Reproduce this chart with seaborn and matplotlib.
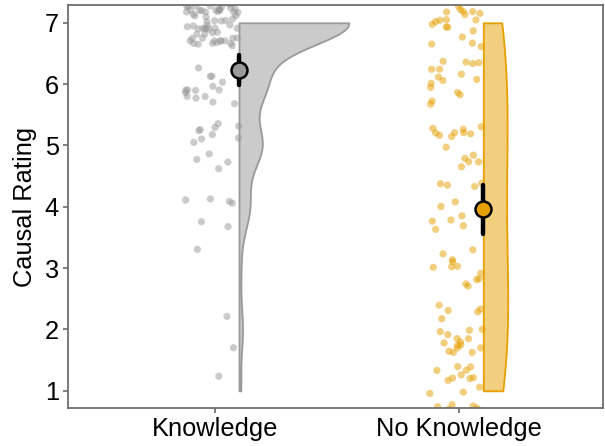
import numpy as np
import pandas as pd
import matplotlib
matplotlib.use("Agg")
import matplotlib.pyplot as plt
import seaborn as sns

# Causal ratings (1-7 scale): number of participants giving each rating
ratings = [1, 2, 3, 4, 5, 6, 7]
knowledge_counts = [1, 2, 1, 6, 13, 15, 64]
no_knowledge_counts = [20, 20, 12, 12, 15, 16, 20]

groups = ["Knowledge", "No Knowledge"]
point_colors = {"Knowledge": "#999999", "No Knowledge": "#E69F00"}
y_label = "Causal Rating"

sns.set_theme(style="white")
plt.rcParams["font.family"] = ["Liberation Sans", "DejaVu Sans"]

# long-format table, one row per participant
rows = []
for gi, (g, counts) in enumerate(zip(groups, [knowledge_counts, no_knowledge_counts])):
    for r, c in zip(ratings, counts):
        rows += [{"group": g, "gpos": gi, "rating": r}] * c
df = pd.DataFrame(rows)

# display jitter for the raw-data cloud (like geom_jitter)
rng = np.random.default_rng(7)
df["xj"] = df["gpos"] + rng.uniform(-0.11, 0.11, len(df)) - 0.01
df["yj"] = df["rating"] + rng.uniform(-0.4, 0.4, len(df))
nudge = 0.1
df["vpos"] = df["gpos"] + nudge

fig = plt.figure(figsize=(6.05, 4.46), dpi=100)
ax = fig.add_axes([68 / 605, 1 - 408 / 446, (603 - 68) / 605, (408 - 5) / 446])

# jittered raw ratings
sns.scatterplot(data=df, x="xj", y="yj", hue="group", palette=point_colors,
                alpha=0.5, s=27, linewidth=0, legend=False, ax=ax, zorder=1)

# half violins to the right of each cloud
violin_style = {"Knowledge": dict(width=0.9, bw_adjust=0.76),
                "No Knowledge": dict(width=0.2, bw_adjust=1.65)}
for g in groups:
    sub = df[df["group"] == g]
    col = point_colors[g]
    n_before = len(ax.collections)
    sns.violinplot(x=sub["vpos"], y=sub["rating"], native_scale=True, orient="x",
                   color=col, saturation=1, linecolor=col, linewidth=1.3,
                   cut=0, inner=None, density_norm="area", ax=ax,
                   **violin_style[g])
    center = sub["vpos"].iloc[0]
    for coll in ax.collections[n_before:]:
        for path in coll.get_paths():
            v = path.vertices
            v[:, 0] = np.maximum(v[:, 0], center)
        coll.set_facecolor(matplotlib.colors.to_rgba(col, 0.5))
        coll.set_edgecolor(col)
        coll.set_zorder(2)

# group means with 95% confidence intervals
n_lines = len(ax.lines)
sns.pointplot(data=df, x="vpos", y="rating", hue="group", palette=point_colors,
              native_scale=True, errorbar=("se", 1.96), linestyle="none",
              markersize=11.5, markeredgecolor="black", markeredgewidth=1.8,
              err_kws={"color": "black", "linewidth": 3.2}, legend=False, ax=ax)
for ln in ax.lines[n_lines:]:
    if ln.get_marker() == "o":
        ln.set_zorder(6)
    else:
        ln.set_zorder(5)

ax.set_xlim(-0.6, 1.59)
ax.set_ylim(0.72, 7.29)
ax.set_xticks([0, 1])
ax.set_xticklabels(groups)
ax.set_yticks(ratings)
ax.set_xlabel("")
ax.set_ylabel(y_label, fontsize=18.3, color="black", labelpad=6)
ax.tick_params(axis="both", which="both", labelsize=18.3, labelcolor="black",
               color="#5a5a5a", length=3.5, width=1.1, direction="out",
               left=True, bottom=True, pad=3)
for sp in ax.spines.values():
    sp.set_visible(True)
    sp.set_color("#6e6e6e")
    sp.set_linewidth(1.3)

fig.savefig("out.png", dpi=100, facecolor="white")
